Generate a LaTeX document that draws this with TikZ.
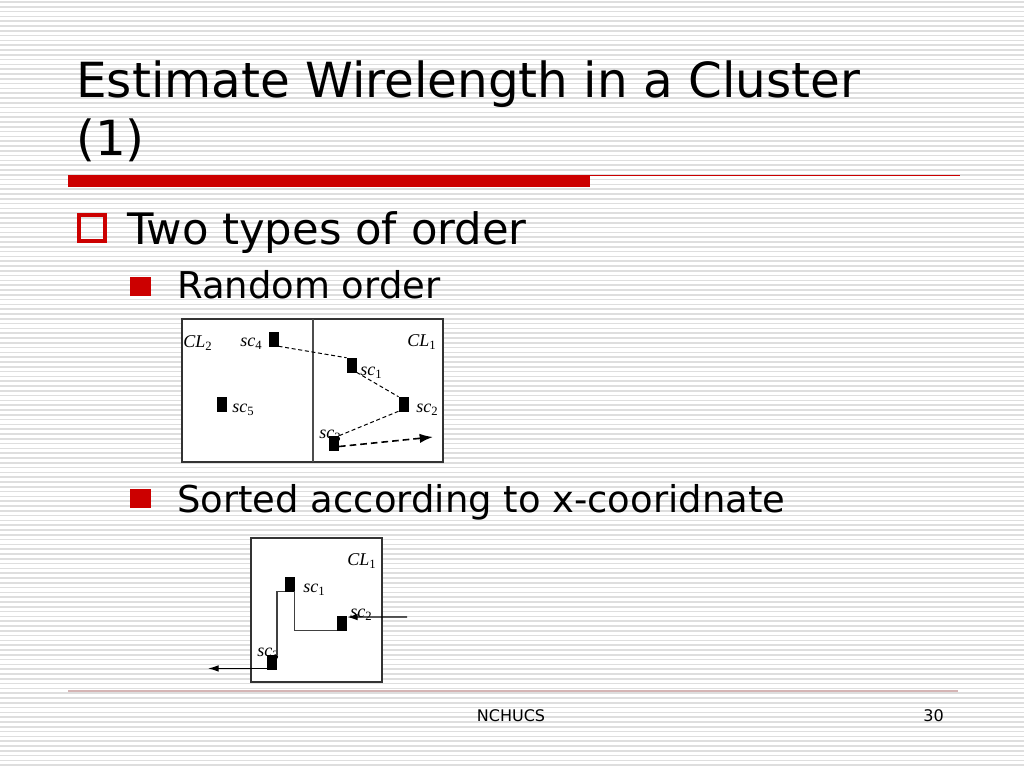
\documentclass[tikz,border=0pt]{standalone}
\usepackage{fontspec}
\setmainfont{DejaVu Sans}
\newfontfamily\tmsfont{Liberation Serif}
\usetikzlibrary{arrows.meta}
\definecolor{slred}{HTML}{CC0000}
\definecolor{stripegray}{HTML}{DEDEDE}
\definecolor{footline}{HTML}{D4B4B4}
\newcommand\sclab[2]{{\itshape #1}\raisebox{-0.22em}{\fontsize{9.5}{10}\selectfont #2}}
\begin{document}
\begin{tikzpicture}[x=0.75pt,y=-0.75pt,
  stripe/.style={draw=stripegray,line width=1.1pt},
  titletext/.style={anchor=base west,inner sep=0pt,font=\fontsize{36.3}{40}\selectfont},
  lvlone/.style={anchor=base west,inner sep=0pt,font=\fontsize{32.5}{36}\selectfont},
  lvltwo/.style={anchor=base west,inner sep=0pt,font=\fontsize{27.7}{30}\selectfont},
  cell/.style={draw=black,fill=black,inner sep=0pt,minimum width=7.1pt,minimum height=10.5pt},
  lbl/.style={anchor=base west,inner sep=0pt,font=\tmsfont\fontsize{13.5}{15}\selectfont},
  frame/.style={draw=black!80,fill=white,line width=0.8pt},
  dline/.style={draw=black,line width=0.75pt,dash pattern=on 3pt off 2pt},
  darrow/.style={draw=black,line width=1.2pt,dash pattern=on 5pt off 3pt,-{Latex[length=10pt,width=7pt]}},
  sline/.style={draw=black!75,line width=0.8pt},
  sarrow/.style={draw=black,line width=1pt,-{Latex[length=8pt,width=5pt]}},
  footer/.style={inner sep=0pt,font=\fontsize{12}{14}\selectfont}]
\useasboundingbox (0,0) rectangle (1024,768);
\fill[white] (0,0) rectangle (1024,768);
\foreach \i in {0,...,159} \draw[stripe] (0,\i*4.8+2) -- (1024,\i*4.8+2);

% title
\node[titletext] (t1) at (76,97) {Estimate Wirelength in a Cluster};
\node[titletext] (t2) at (76,155) {(1)};
\fill[slred] (68,175) rectangle (590,187);
\draw[slred,line width=0.9pt] (590,175.5) -- (960,175.5);

% bullets
\draw[slred,line width=3pt] (79,215) rectangle (105,241);
\node[lvlone] (b1) at (127,244) {Two types of order};
\fill[slred] (130,277) rectangle (151,296);
\node[lvltwo] (b2) at (177,298) {Random order};
\fill[slred] (130,489) rectangle (151,508);
\node[lvltwo] (b3) at (177,512) {Sorted according to x-cooridnate};

% diagram 1
\draw[frame] (182,319) rectangle (443,462);
\draw[draw=black!70,line width=0.8pt] (313,319) -- (313,462);
\node[lbl] (cl2) at (183,347) {\sclab{CL}{2}};
\node[lbl] (l4) at (240,346) {\sclab{sc}{4}};
\node[lbl] (cl1) at (407,346) {\sclab{CL}{1}};
\node[lbl] (l1) at (360,375) {\sclab{sc}{1}};
\node[lbl] (l5) at (232,412) {\sclab{sc}{5}};
\node[lbl] (l2) at (416,412) {\sclab{sc}{2}};
\node[lbl] (l3) at (319,438) {\sclab{sc}{3}};
\node[cell] (s4) at (273.5,339) {};
\node[cell] (s1) at (351.5,365) {};
\node[cell] (s2) at (403.5,404) {};
\node[cell] (s3) at (334,443) {};
\node[cell] (s5) at (222,404) {};
\coordinate (e1) at (433,437);
\draw[dline] (s4.south east) -- (s1.north west);
\draw[dline] (s1.south east) -- (s2.north west);
\draw[dline] (s2.south west) -- (s3.north east);
\draw[darrow] (s3.-35) -- (e1);

% diagram 2
\draw[frame] (251,538) rectangle (382,682);
\node[lbl] (cl1b) at (347,565) {\sclab{CL}{1}};
\node[lbl] (l1b) at (303,592) {\sclab{sc}{1}};
\node[lbl] (l2b) at (350,617) {\sclab{sc}{2}};
\node[lbl] (l3b) at (257,656) {\sclab{sc}{3}};
\node[cell] (s1b) at (289.5,584) {};
\node[cell] (s2b) at (342,623) {};
\node[cell] (s3b) at (272,662.5) {};
\coordinate (in2) at (407,617);
\coordinate (out2) at (208,668);
\draw[sline] (s3b.north east) |- (s1b.south west);
\draw[sline] (s1b.south east) |- (s2b.south west);
\draw[sarrow] (in2) -- (s2b.50);
\draw[sarrow] (s3b.-130) -- (out2 |- s3b.-130);

% footer
\draw[footline,line width=0.8pt] (68,691) -- (958,691);
\node[footer,anchor=base] (ft) at (511,721) {NCHUCS};
\node[footer,anchor=base east] (pg) at (944,721) {30};
\end{tikzpicture}
\end{document}
